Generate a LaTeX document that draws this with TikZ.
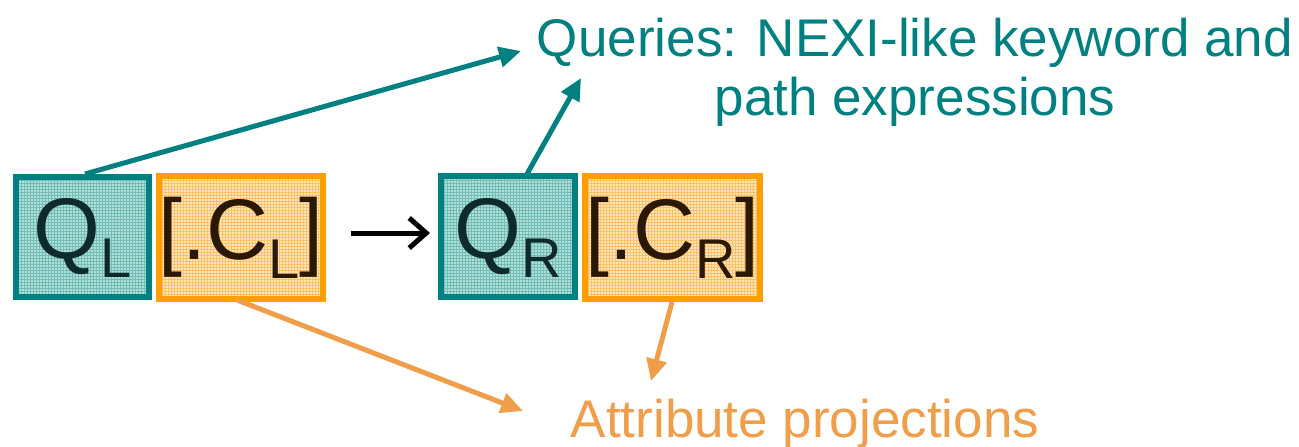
\documentclass[tikz,border=0pt]{standalone}
\usepackage{fontspec}
\setmainfont{Liberation Sans}
\usetikzlibrary{arrows.meta,patterns}

\definecolor{tealline}{HTML}{008080}
\definecolor{tealfill}{HTML}{B4DEDA}
\definecolor{tealgrid}{HTML}{70BDB6}
\definecolor{orangeline}{HTML}{FF9E00}
\definecolor{orangefill}{HTML}{FFE7C2}
\definecolor{orangegrid}{HTML}{FFC066}
\definecolor{orangearrow}{HTML}{F09E4A}
\definecolor{tealtext}{HTML}{0E2A2A}
\definecolor{orangetext}{HTML}{2A1800}

\newcommand{\bigfont}{\fontsize{86}{86}\selectfont}
\newcommand{\subfont}{\fontsize{56}{56}\selectfont}
\newcommand{\lowsub}[1]{\raisebox{-19pt}{\subfont #1}}

\tikzset{
  querybox/.style={preaction={fill=tealfill}, pattern=grid, pattern color=tealgrid,
    draw=tealline, line width=6pt,
    text=tealtext, inner sep=0pt, text height=62pt, text depth=19pt},
  projbox/.style={preaction={fill=orangefill}, pattern=grid, pattern color=orangegrid,
    draw=orangeline, line width=6pt,
    text=orangetext, inner sep=0pt, text height=62pt, text depth=19pt},
  caption/.style={font=\fontsize{53}{59}\selectfont, align=center, inner sep=0pt},
  tealarrow/.style={draw=tealline, line width=5pt,
    -{Triangle[length=22pt,width=20pt]}},
  orangearrow/.style={draw=orangearrow, line width=5pt,
    -{Triangle[length=22pt,width=20pt]}},
  rewrite/.style={draw=black, line width=5pt,
    -{Straight Barb[length=17pt,width=30pt,line width=5pt]}}
}

\begin{document}
\begin{tikzpicture}[x=1pt,y=-1pt]
  \useasboundingbox (0,0) rectangle (1299,447);

  % left-hand side of the rewrite rule
  \node[querybox, minimum width=133pt, minimum height=120pt] (ql) at (82.5,237)
    {\bigfont Q\lowsub{L}};
  \node[projbox, minimum width=162pt, minimum height=123pt] (cl) at (241,237.5)
    {\bigfont[.C\lowsub{L}]};

  % right-hand side of the rewrite rule
  \node[querybox, minimum width=134pt, minimum height=121pt] (qr) at (508,236.5)
    {\bigfont Q\lowsub{R}};
  \node[projbox, minimum width=175pt, minimum height=123pt] (cr) at (672.5,237.5)
    {\bigfont[.C\lowsub{R}]};

  % explanations (base anchor sits on the last line)
  \node[caption, text=tealline, anchor=base] (queries) at (915,115)
    {Queries: NEXI-like keyword and\\path expressions};
  \node[caption, text=orangearrow, anchor=base] (attrs) at (805,437)
    {Attribute projections};

  % anchor points of the pointers
  \coordinate (qltop) at (85,174);
  \coordinate (qrtop) at (527,174);
  \coordinate (clbot) at (237,300);
  \coordinate (crbot) at (672,302);
  \coordinate (qtipa) at (521,51);
  \coordinate (qtipb) at (581,78);
  \coordinate (atipa) at (523,411);
  \coordinate (atipb) at (651,381);

  % rewrite arrow
  \draw[rewrite] ([xshift=25pt]cl.east |- 0,233) -- ([xshift=-8pt]qr.west |- 0,233);

  % pointers
  \draw[tealarrow] (qltop) -- (qtipa);
  \draw[tealarrow] (qrtop) -- (qtipb);
  \draw[orangearrow] (clbot) -- (atipa);
  \draw[orangearrow] (crbot) -- (atipb);
\end{tikzpicture}
\end{document}
